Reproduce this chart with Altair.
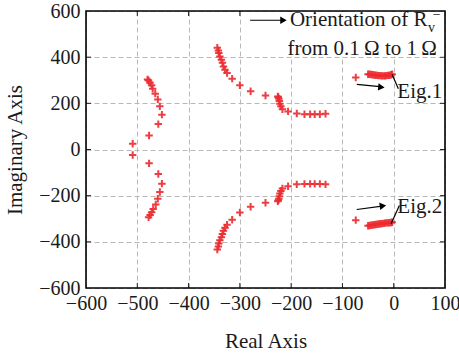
import altair as alt
import pandas as pd

# Eigenvalue loci (real part, imaginary part) while R_v^- is swept from 0.1 to 1 ohm
mode_a_re = [-480, -478, -475, -472, -470, -465, -460, -456, -452, -459, -477, -509,
             -509, -477, -459, -452, -456, -460, -464, -469, -472, -475, -478]
mode_a_im = [303, 299, 289, 278, 263, 242, 217, 187, 151, 110, 61, 25,
             -24, -60, -106, -148, -184, -213, -238, -258, -272, -284, -294]

mode_b_re = [-344, -342, -341, -339, -336, -334, -332, -329, -325, -315, -300, -279, -250,
             -226, -225, -224, -223, -222, -220, -217, -206, -189, -174, -163, -154, -144, -133,
             -344, -342, -341, -339, -336, -334, -332, -329, -325, -315, -300, -279, -250,
             -226, -225, -224, -223, -222, -220, -217, -206, -189, -174, -163, -154, -144, -133]
mode_b_im = [441, 429, 418, 403, 389, 376, 360, 346, 331, 307, 278, 252, 234,
             230, 226, 220, 210, 198, 187, 174, 165, 156, 153, 153, 153, 153, 155,
             -433, -420, -407, -393, -380, -366, -352, -339, -326, -304, -273, -248, -231,
             -224, -220, -213, -202, -191, -180, -169, -159, -151, -149, -149, -149, -149, -151]

eig1_re = [-74, -50, -47, -44, -41, -38, -35, -32, -29, -26, -23, -20, -17, -14, -11, -8, -5, -3]
eig1_im = [312, 326, 326, 325, 324, 323, 322, 321, 320, 320, 319, 319, 319, 320, 321, 322, 324, 326]
eig2_re = [-74, -50, -47, -44, -41, -38, -35, -32, -29, -26, -23, -20, -17, -14, -11, -8, -5, -3]
eig2_im = [-306, -330, -329, -328, -327, -326, -325, -324, -323, -322, -321, -320, -319, -318, -318, -317, -316, -315]

x_ticks = [-600, -500, -400, -300, -200, -100, 0, 100]
y_ticks = [-600, -400, -200, 0, 200, 400, 600]

W, H = 359, 277
RED = "#ec2a2f"
FONT = "Liberation Serif"

poles = pd.DataFrame({
    "re": mode_a_re + mode_b_re + eig1_re + eig2_re,
    "im": mode_a_im + mode_b_im + eig1_im + eig2_im,
})

xs = alt.Scale(domain=[-600, 100], nice=False, zero=False)
ys = alt.Scale(domain=[-600, 600], nice=False, zero=False)

plus = "M-1,0L1,0M0,-1L0,1"

points = alt.Chart(poles).mark_point(
    shape=plus, filled=False, stroke=RED, strokeWidth=2, size=55, opacity=0.9
).encode(
    x=alt.X("re:Q", scale=xs, axis=alt.Axis(
        values=x_ticks, title="Real Axis", grid=True, ticks=False, domain=False,
        labelPadding=5, titlePadding=17, format="~d", labelOverlap=False,
        labelFlush=False)),
    y=alt.Y("im:Q", scale=ys, axis=alt.Axis(
        values=y_ticks, title="Imaginary Axis", grid=True, ticks=False, domain=False,
        labelPadding=6, titlePadding=13, format="~d", labelOverlap=False,
        labelFlush=False)),
)

# inward tick marks on all four sides
xt = pd.DataFrame({"v": x_ticks[1:-1]})
yt = pd.DataFrame({"v": y_ticks[1:-1]})
tick_style = dict(color="#222222", strokeWidth=1)
ticks = alt.layer(
    alt.Chart(xt).mark_rule(**tick_style).encode(
        x=alt.X("v:Q", scale=xs), y=alt.value(H), y2=alt.value(H - 5)),
    alt.Chart(xt).mark_rule(**tick_style).encode(
        x=alt.X("v:Q", scale=xs), y=alt.value(0), y2=alt.value(5)),
    alt.Chart(yt).mark_rule(**tick_style).encode(
        y=alt.Y("v:Q", scale=ys), x=alt.value(0), x2=alt.value(5)),
    alt.Chart(yt).mark_rule(**tick_style).encode(
        y=alt.Y("v:Q", scale=ys), x=alt.value(W), x2=alt.value(W - 5)),
)

# white panel behind the legend note
panel = alt.Chart(pd.DataFrame({"x": [-297], "x2": [98], "y": [403], "y2": [597]})).mark_rect(
    color="white").encode(x=alt.X("x:Q", scale=xs), x2="x2:Q", y=alt.Y("y:Q", scale=ys), y2="y2:Q")

# straight segments: arrow shafts and leader lines
segs = pd.DataFrame({
    "x": [-280, -72, -72, -3, -5],
    "x2": [-214, -22, -19, 9, 11],
    "y": [560, 282, -260, 325, -322],
    "y2": [560, 271, -244, 263, -243],
})
lines = alt.Chart(segs).mark_rule(color="black", strokeWidth=1.2).encode(
    x=alt.X("x:Q", scale=xs), x2="x2:Q", y=alt.Y("y:Q", scale=ys), y2="y2:Q")

heads = pd.DataFrame({"x": [-215, -24, -21], "y": [560, 270, -244], "a": [0, 5, 352]})
arrowheads = alt.Chart(heads).mark_point(
    shape="triangle-right", filled=True, color="black", size=55, opacity=1).encode(
    x=alt.X("x:Q", scale=xs), y=alt.Y("y:Q", scale=ys), angle=alt.Angle("a:Q", scale=None))

def label(df, size, align):
    return alt.Chart(df).mark_text(
        font=FONT, fontSize=size, align=align, baseline="middle", color="#1a1a1a").encode(
        x=alt.X("x:Q", scale=xs), y=alt.Y("y:Q", scale=ys), text="t:N")

main_text = label(pd.DataFrame({
    "x": [66, 84], "y": [559, 437],
    "t": ["Orientation of R", "from 0.1\u2009\u03a9 to 1\u2009\u03a9"]}), 21, "right")
sub_text = label(pd.DataFrame({"x": [67], "y": [528], "t": ["v"]}), 14, "left")
sup_text = label(pd.DataFrame({"x": [76], "y": [582], "t": ["\u2212"]}), 14, "left")
eig_text = label(pd.DataFrame({"x": [7, 7], "y": [249, -247], "t": ["Eig.1", "Eig.2"]}), 21, "left")

frame = alt.Chart(pd.DataFrame({"a": [0]})).mark_rect(
    filled=False, stroke="black", strokeWidth=1.6).encode(
    x=alt.value(0), x2=alt.value(W), y=alt.value(0), y2=alt.value(H))

chart = alt.layer(
    points, ticks, panel, lines, arrowheads, main_text, sub_text, sup_text, eig_text, frame
).properties(
    width=W, height=H,
    autosize=alt.AutoSizeParams(type="none"),
    padding={"left": 86, "top": 11, "right": 14, "bottom": 68},
    background="white",
).configure_view(stroke=None).configure_axis(
    labelFont=FONT, labelFontSize=20, labelColor="#1a1a1a",
    titleFont=FONT, titleFontSize=21, titleFontWeight="normal", titleColor="#1a1a1a",
    gridColor="#b8b8b8", gridDash=[5, 3], gridWidth=1,
)

chart.save("out.html", embed_options={"renderer": "svg", "actions": False})
